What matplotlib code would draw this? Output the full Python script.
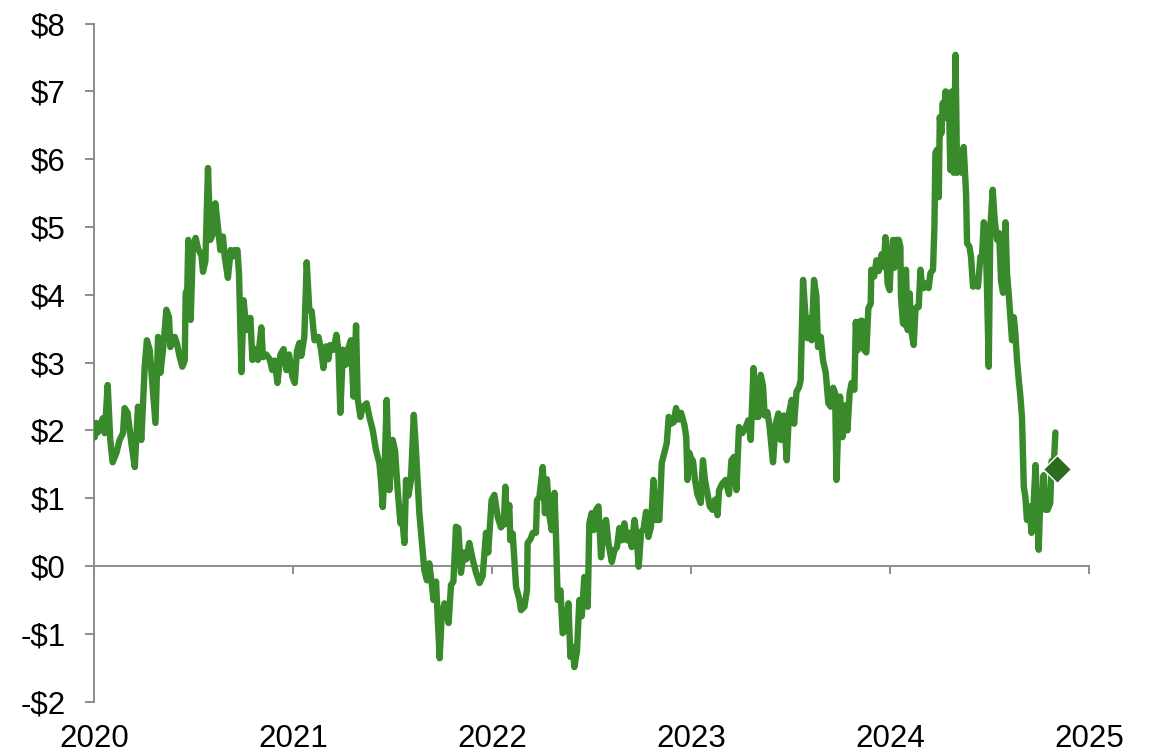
import matplotlib
matplotlib.use("Agg")
import matplotlib.pyplot as plt
import numpy as np

# time as years since 2020-01-01, value in $
t_offset = [
 0.004,0.012,0.020,0.044,0.054,0.069,0.082,0.094,0.113,0.129,0.146,0.154,0.169,0.188,0.205,0.221,0.238,
 0.255,0.266,0.280,0.293,0.309,0.322,0.334,0.347,0.364,0.377,0.384,0.406,0.417,0.431,0.444,0.456,0.461,
 0.469,0.474,0.486,0.497,0.511,0.523,0.540,0.548,0.560,0.573,0.585,0.598,0.610,0.623,0.635,0.648,0.657,
 0.673,0.687,0.695,0.707,0.721,0.729,0.741,0.752,0.766,0.786,0.796,0.813,0.824,0.841,0.849,0.866,0.883,
 0.896,0.908,0.922,0.937,0.953,0.967,0.980,0.997,
 1.009,1.020,1.032,1.042,1.057,1.069,1.082,1.094,1.108,1.128,1.141,1.153,1.166,1.178,1.188,1.205,1.218,
 1.228,1.238,1.251,1.266,1.278,1.291,1.304,1.317,1.325,1.339,1.350,1.370,1.384,1.401,1.417,1.434,1.442,
 1.451,1.459,1.471,1.484,1.501,1.513,1.526,1.540,1.548,1.560,1.568,1.580,1.593,1.607,1.618,1.635,1.647,
 1.660,1.673,1.685,1.697,1.706,1.719,1.727,1.737,1.747,1.761,1.772,1.782,1.794,1.806,1.819,1.831,1.844,
 1.858,1.871,1.886,1.903,1.920,1.937,1.953,1.970,1.981,1.998,
 2.012,2.029,2.045,2.059,2.067,2.075,2.087,2.092,2.104,2.121,2.138,2.146,2.163,2.176,2.179,2.194,2.205,
 2.221,2.226,2.238,2.246,2.255,2.266,2.276,2.288,2.300,2.314,2.322,2.330,2.344,2.355,2.369,2.384,2.394,
 2.406,2.414,2.427,2.439,2.451,2.464,2.481,2.489,2.501,2.511,2.523,2.535,2.548,2.561,2.573,2.585,2.602,
 2.615,2.628,2.640,2.652,2.665,2.678,2.690,2.702,2.716,2.727,2.737,2.749,2.762,2.774,2.786,2.799,2.811,
 2.824,2.841,2.853,2.866,2.878,2.888,2.900,2.913,2.925,2.937,2.950,2.967,2.976,2.982,2.992,
 2.999,3.010,3.020,3.032,3.049,3.060,3.070,3.082,3.094,3.108,3.121,3.133,3.141,3.158,3.174,3.191,3.203,
 3.216,3.228,3.241,3.258,3.275,3.288,3.300,3.314,3.325,3.339,3.350,3.362,3.370,3.384,3.395,3.412,3.426,
 3.439,3.451,3.459,3.467,3.481,3.492,3.506,3.518,3.530,3.543,3.551,3.563,3.573,3.585,3.596,3.606,3.618,
 3.630,3.638,3.652,3.663,3.677,3.690,3.702,3.714,3.724,3.731,3.741,3.749,3.761,3.774,3.786,3.797,3.807,
 3.821,3.828,3.836,3.844,3.858,3.869,3.881,3.891,3.903,3.906,3.920,3.932,3.943,3.958,3.968,3.977,3.988,
 3.998,
 4.005,4.015,4.022,4.032,4.044,4.052,4.055,4.065,4.072,4.080,4.089,4.099,4.106,4.119,4.128,4.136,4.144,
 4.153,4.161,4.169,4.181,4.194,4.203,4.216,4.223,4.228,4.236,4.245,4.250,4.258,4.265,4.270,4.279,4.286,
 4.295,4.303,4.312,4.320,4.329,4.337,4.350,4.359,4.370,4.382,4.387,4.399,4.407,4.417,4.429,4.442,4.454,
 4.462,4.471,4.479,4.487,4.496,4.504,4.516,4.526,4.538,4.548,4.558,4.568,4.580,4.588,4.596,4.605,4.613,
 4.622,4.630,4.638,4.647,4.655,4.663,4.668,4.672,4.680,4.688,4.700,4.711,4.719,4.731,4.739,4.747,4.756,
 4.764,4.772,4.780,4.792,4.805,4.812,4.822,4.831,
]
values = [
 1.90,2.11,1.97,2.18,1.96,2.67,1.86,1.53,1.67,1.86,1.96,2.33,2.26,1.81,1.46,2.35,1.86,
 2.94,3.33,3.19,2.70,2.11,3.38,2.85,3.19,3.78,3.67,3.23,3.38,3.28,3.08,2.94,3.03,4.03,
 4.08,4.81,3.63,4.71,4.84,4.68,4.58,4.34,4.50,5.87,4.81,4.90,5.35,5.00,4.66,4.86,4.56,
 4.25,4.66,4.56,4.66,4.66,4.30,2.86,3.92,3.48,3.66,3.04,3.20,3.04,3.52,3.08,3.12,3.05,
 2.89,3.03,2.70,3.12,3.20,2.89,3.12,2.79,
 2.70,3.17,3.29,3.10,3.38,4.48,3.78,3.76,3.33,3.38,3.19,2.92,3.24,3.05,3.26,3.19,3.41,
 3.19,2.26,3.19,2.97,3.21,3.33,2.50,3.55,2.47,2.20,2.34,2.40,2.20,2.00,1.71,1.52,1.27,
 0.87,1.30,2.45,1.12,1.86,1.70,1.12,0.63,0.73,0.34,1.27,1.04,1.27,2.23,1.71,0.78,0.38,
 -0.06,-0.21,0.04,-0.25,-0.50,-0.23,-0.75,-1.36,-0.75,-0.55,-0.70,-0.84,-0.28,-0.23,0.58,0.56,-0.10,
 0.20,0.10,0.34,0.10,-0.10,-0.25,-0.15,0.49,0.20,0.97,
 1.05,0.72,0.57,0.62,1.17,0.62,0.90,0.38,0.48,-0.31,-0.50,-0.65,-0.60,-0.35,0.34,0.40,0.49,
 0.49,0.97,1.02,1.22,1.46,0.78,1.28,0.75,0.53,1.08,0.40,-0.50,-0.36,-0.99,-0.94,-0.55,-1.34,
 -1.19,-1.49,-1.25,-0.50,-0.74,-0.16,-0.60,0.63,0.78,0.53,0.83,0.88,0.13,0.53,0.68,0.34,0.06,
 0.23,0.28,0.56,0.38,0.63,0.38,0.49,0.28,0.68,0.43,-0.01,0.50,0.55,0.80,0.43,0.58,1.27,
 0.68,0.68,1.52,1.67,1.81,2.20,2.10,2.12,2.33,2.16,2.26,2.08,1.90,1.27,1.67,
 1.60,1.55,1.27,1.06,0.93,1.56,1.27,1.08,0.88,0.83,0.98,0.75,1.12,1.22,1.27,1.06,1.56,
 1.61,1.12,2.05,1.96,2.05,2.15,1.86,2.92,2.20,2.20,2.82,2.65,2.22,2.27,2.05,1.53,2.10,
 2.25,1.86,2.20,2.22,1.56,2.25,2.45,2.10,2.57,2.64,2.74,4.22,3.78,3.36,3.65,3.33,4.22,
 3.98,3.23,3.38,3.04,2.85,2.40,2.35,2.63,2.55,1.27,2.20,2.50,1.90,2.37,2.00,2.55,2.70,
 2.60,3.60,3.18,3.60,3.62,3.19,3.15,3.80,3.87,4.37,4.27,4.51,4.35,4.60,4.41,4.85,4.16,
 4.07,
 4.56,4.81,4.40,4.81,4.81,4.71,3.97,3.58,3.56,4.37,3.48,4.02,3.48,3.26,3.80,3.82,3.82,
 4.37,4.12,4.10,4.17,4.10,4.32,4.37,5.00,6.09,6.14,5.44,6.62,6.38,6.83,6.60,7.00,6.73,
 6.98,5.84,7.00,5.80,7.54,5.80,6.03,5.80,6.18,5.50,4.76,4.71,4.56,4.12,4.17,4.12,4.56,
 4.56,5.07,4.98,4.12,2.94,5.00,5.55,5.10,4.81,4.91,4.20,4.03,5.07,4.30,4.03,3.67,3.33,
 3.67,3.42,3.04,2.74,2.50,2.20,1.61,1.17,1.02,0.68,0.88,0.49,0.75,1.49,1.00,0.24,1.09,
 0.85,1.34,0.83,0.83,0.93,1.55,1.45,1.97,
]
marker_t = [4.840]
marker_v = [1.43]

y_ticks = [-2, -1, 0, 1, 2, 3, 4, 5, 6, 7, 8]
y_labels = ["-$2", "-$1", "$0", "$1", "$2", "$3", "$4", "$5", "$6", "$7", "$8"]
x_ticks = [2020, 2021, 2022, 2023, 2024, 2025]
x_labels = ["2020", "2021", "2022", "2023", "2024", "2025"]

line_color = "#388A2A"
marker_color = "#2D6B1E"
axis_color = "#8C8C8C"

plt.rcParams['font.family'] = ['Liberation Sans', 'DejaVu Sans']

fig = plt.figure(figsize=(11.5, 7.54), dpi=100)
ax = fig.add_axes([0.0817, 0.0694, 0.947 - 0.0817, 0.9687 - 0.0694])

xs = 2020 + np.array(t_offset)
ax.plot(xs, values, color=line_color, lw=4.6, solid_joinstyle='round',
        solid_capstyle='round', zorder=3)
ax.plot(2020 + np.array(marker_t), marker_v, linestyle='none', marker='D',
        markersize=14.5, markerfacecolor=marker_color, markeredgecolor='white',
        markeredgewidth=1.0, zorder=4)

ax.set_xlim(2020, 2025)
ax.set_ylim(-2, 8)

for s in ['top', 'right']:
    ax.spines[s].set_visible(False)
ax.spines['bottom'].set_position(('data', 0))
for s in ['left', 'bottom']:
    ax.spines[s].set_color(axis_color)
    ax.spines[s].set_linewidth(1.4)

ax.set_yticks(y_ticks)
ax.set_yticklabels(y_labels)
ax.tick_params(axis='y', direction='out', length=6.5, width=1.4, color=axis_color,
               labelsize=22.5, pad=14, labelcolor='black')
ax.set_xticks(x_ticks)
ax.tick_params(axis='x', direction='out', length=6, width=1.4, color=axis_color,
               labelbottom=False)

sec = ax.secondary_xaxis(0)
sec.set_xticks(x_ticks)
sec.set_xticklabels(x_labels)
sec.spines['bottom'].set_visible(False)
sec.tick_params(axis='x', length=0, labelsize=22.5, pad=16, labelcolor='black')

fig.savefig("out.png", dpi=100, facecolor='white')
